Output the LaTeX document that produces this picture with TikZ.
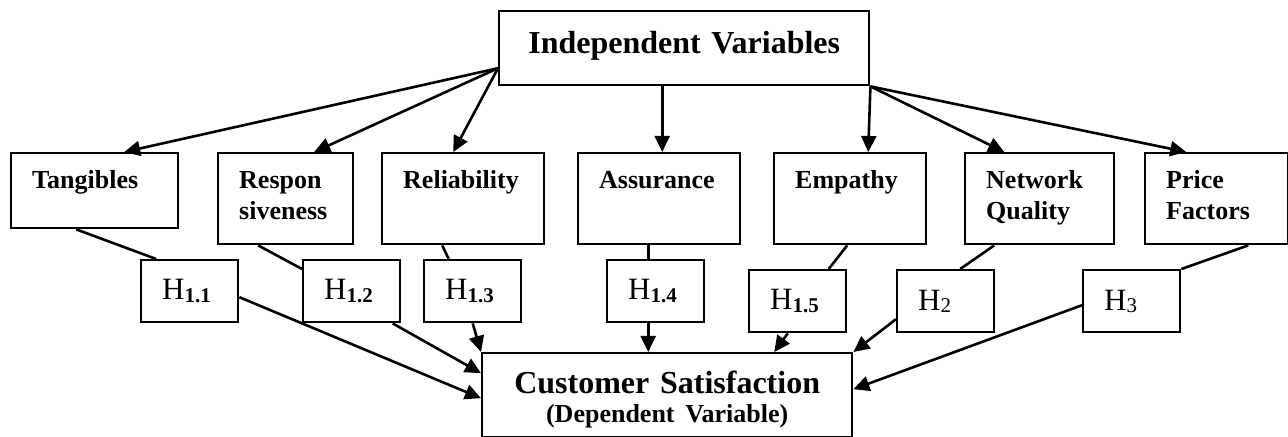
\documentclass[tikz,border=0pt]{standalone}
\usepackage{fontspec}
\setmainfont{Liberation Serif}
\usetikzlibrary{positioning,arrows.meta}
\newcommand{\hlabel}[1]{H\raisebox{-1.2pt}{\fontsize{10.5}{12}\selectfont #1}}

\begin{document}
\begin{tikzpicture}[x=0.5pt, y=-0.5pt,
    factor/.style={draw, line width=1.2pt, anchor=north west, inner xsep=10.5pt, inner ysep=0pt, align=left, text height=17.5pt, text depth=28pt, font=\fontsize{13}{15.5}\selectfont\bfseries},
    hyp/.style={draw, line width=1.2pt, anchor=north west, minimum height=31pt, text width=27.5pt, inner xsep=10.5pt, inner ysep=0pt, align=left, font=\fontsize{15.5}{18}\selectfont},
    mainbox/.style={draw, line width=1.2pt, anchor=north west, text width=185pt, inner xsep=0pt, inner ysep=0pt, align=center, font=\fontsize{16}{14.5}\selectfont\bfseries},
    arr/.style={-{Triangle[length=8pt,width=7.5pt]}, line width=1.3pt},
    link/.style={line width=1.3pt}]
  \useasboundingbox (0,0) rectangle (1288,437);

  \node[mainbox, text height=21pt, text depth=16pt] (iv) at (498,10) {Independent Variables};

  \node[factor, text width=62.5pt, text depth=20pt] (tan) at (10,152) {Tangibles};
  \node[factor, text width=46.5pt] (resp) at (217,152) {Respon\\siveness};
  \node[factor, text width=60pt] (rel) at (381,152) {Reliability};
  \node[factor, text width=60pt] (ass) at (577,152) {Assurance};
  \node[factor, text width=55pt] (emp) at (773,152) {Empathy};
  \node[factor, text width=53.5pt] (net) at (964,152) {Network\\Quality};
  \node[factor, text width=50.5pt] (price) at (1144,152) {Price\\Factors};

  \node[hyp] (h11) at (140,259) {\hlabel{\textbf{1.1}}};
  \node[hyp] (h12) at (302,259) {\hlabel{\textbf{1.2}}};
  \node[hyp] (h13) at (423,259) {\hlabel{\textbf{1.3}}};
  \node[hyp] (h14) at (606,259) {\hlabel{\textbf{1.4}}};
  \node[hyp] (h15) at (748,269) {\hlabel{\textbf{1.5}}};
  \node[hyp] (h2) at (896,269) {\hlabel{2}};
  \node[hyp] (h3) at (1082,269) {\hlabel{3}};

  \node[mainbox, text height=20pt, text depth=22pt] (cs) at (481,352) {Customer Satisfaction\\{\fontsize{13}{14.5}\selectfont (Dependent Variable)}};

  \draw[arr] ([yshift=-10pt]iv.west) -- ([xshift=14.75pt]tan.north);
  \draw[arr] ([yshift=-10pt]iv.west) -- ([xshift=14.25pt]resp.north);
  \draw[arr] ([yshift=-10pt]iv.west) -- ([xshift=-5pt]rel.north);
  \draw[arr] ([xshift=-11pt]iv.south) -- ([xshift=1.5pt]ass.north);
  \draw[arr] (iv.south east) -- ([xshift=9pt]emp.north);
  \draw[arr] (iv.south east) -- ([xshift=-17.75pt]net.north);
  \draw[arr] (iv.south east) -- ([xshift=-15.25pt]price.north);

  \draw[link] ([xshift=-9.25pt]tan.south) -- ([xshift=-16.75pt]h11.north);
  \draw[link] ([xshift=-13.75pt]resp.south) -- ([yshift=-5pt]h12.north west);
  \draw[link] ([xshift=-10.5pt]rel.south) -- ([xshift=-12pt]h13.north);
  \draw[link] ([xshift=-5.5pt]ass.south) -- ([xshift=-3.75pt]h14.north);
  \draw[link] ([xshift=-1.5pt]emp.south) -- ([xshift=15.5pt]h15.north);
  \draw[link] ([xshift=-22.75pt]net.south) -- ([xshift=7.25pt]h2.north);
  \draw[link] ([xshift=15.75pt]price.south) -- (h3.north east);

  \draw[arr] ([yshift=-3pt]h11.east) -- ([yshift=-1.5pt]cs.west);
  \draw[arr] ([xshift=20.5pt]h12.south) -- ([yshift=11pt]cs.west);
  \draw[arr] (h13.south) -- (cs.north west);
  \draw[arr] ([xshift=-3.75pt]h14.south) -- ([xshift=-9.5pt]cs.north);
  \draw[arr] ([xshift=-5pt]h15.south) -- ([xshift=53.5pt]cs.north);
  \draw[arr] ([yshift=-9pt]h2.west) -- (cs.north east);
  \draw[arr] ([yshift=-2pt]h3.west) -- ([yshift=3pt]cs.east);
\end{tikzpicture}
\end{document}
